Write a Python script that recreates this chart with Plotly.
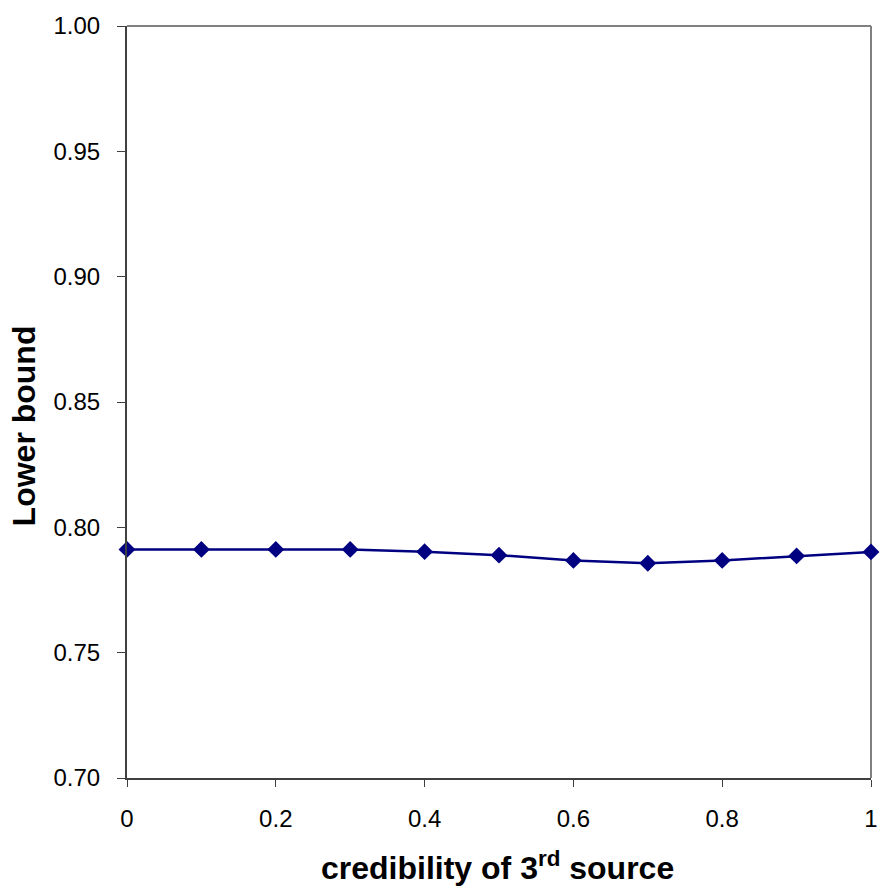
import plotly.graph_objects as go

# Credibility of the third source vs. resulting lower bound
credibility = [0, 0.1, 0.2, 0.3, 0.4, 0.5, 0.6, 0.7, 0.8, 0.9, 1.0]
lower_bound = [0.7912, 0.7912, 0.7912, 0.7912, 0.7903, 0.7889, 0.7868, 0.7857, 0.7868, 0.7886, 0.7902]

x_ticks = [0, 0.2, 0.4, 0.6, 0.8, 1.0]
x_tick_text = ["0", "0.2", "0.4", "0.6", "0.8", "1"]
y_ticks = [0.70, 0.75, 0.80, 0.85, 0.90, 0.95, 1.00]
y_tick_text = ["0.70", "0.75", "0.80", "0.85", "0.90", "0.95", "1.00"]

navy = "#000080"
font_family = "Liberation Sans, Arial, sans-serif"

fig = go.Figure()
fig.add_trace(go.Scatter(
    x=credibility, y=lower_bound, mode="lines+markers",
    line=dict(color=navy, width=2.5),
    marker=dict(symbol="diamond", size=13, color=navy),
    cliponaxis=False, showlegend=False,
))

fig.update_layout(
    width=880, height=886,
    margin=dict(l=127, r=9, t=26, b=108, autoexpand=False),
    paper_bgcolor="white", plot_bgcolor="white",
    font=dict(family=font_family, size=24, color="black"),
    xaxis=dict(
        range=[0, 1], tickvals=x_ticks, ticktext=x_tick_text,
        showgrid=False, zeroline=False, automargin=False,
        showline=True, linecolor="#404040", linewidth=2,
        ticks="outside", ticklen=7, tickcolor="#404040", tickwidth=1,
        ticklabelstandoff=11,
        tickfont=dict(size=24),
    ),
    yaxis=dict(
        range=[0.70, 1.00], tickvals=y_ticks, ticktext=y_tick_text,
        showgrid=False, zeroline=False, automargin=False,
        showline=True, linecolor="#404040", linewidth=2,
        ticks="outside", ticklen=8, tickcolor="#404040", tickwidth=1,
        ticklabelstandoff=12,
        tickfont=dict(size=24),
    ),
)

# Plot-area border (top and right edges)
fig.add_shape(type="line", xref="paper", yref="paper", x0=0, x1=1, y0=1, y1=1,
              line=dict(color="#808080", width=2), layer="below")
fig.add_shape(type="line", xref="paper", yref="paper", x0=1, x1=1, y0=0, y1=1,
              line=dict(color="#808080", width=2), layer="below")

# Axis titles
fig.add_annotation(
    text="<b>credibility of 3<sup>rd</sup> source</b>",
    xref="paper", yref="paper", x=0.498, y=-0.117, yanchor="middle",
    showarrow=False, font=dict(size=32, family=font_family),
)
fig.add_annotation(
    text="<b>Lower bound</b>",
    xref="paper", yref="paper", x=-0.138, y=0.468, textangle=-90,
    xanchor="center", yanchor="middle",
    showarrow=False, font=dict(size=32, family=font_family),
)

fig.write_html("out.html")
